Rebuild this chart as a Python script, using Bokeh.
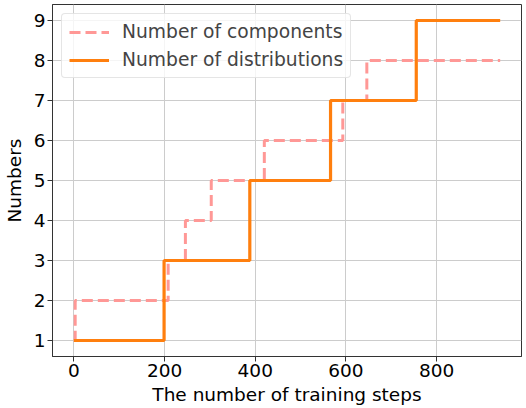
from bokeh.plotting import figure
from bokeh.models import Range1d, FixedTicker, Legend, LegendItem
from bokeh.embed import file_html
from bokeh.resources import INLINE

# Data: step functions (value holds from x until next x)
comp_x = [0, 3, 208, 246, 303, 420, 593, 646, 940]
comp_y = [1, 2, 3, 4, 5, 6, 7, 8, 8]
dist_x = [0, 199, 388, 566, 755, 940]
dist_y = [1, 3, 5, 7, 9, 9]
x_ticks = [0, 200, 400, 600, 800]
y_ticks = [1, 2, 3, 4, 5, 6, 7, 8, 9]
x_label = "The number of training steps"
y_label = "Numbers"

FONT = "DejaVu Sans"

p = figure(frame_width=469, frame_height=352, output_backend="svg", toolbar_location=None,
           x_range=Range1d(-47, 987), y_range=Range1d(0.6, 9.4),
           min_border_left=44, min_border_right=5, min_border_top=4, min_border_bottom=0)

r1 = p.step(comp_x, comp_y, mode="after", line_color="#ff9896", line_width=3,
            line_dash="11 5")
r2 = p.step(dist_x, dist_y, mode="after", line_color="#ff7f0e", line_width=3.2)

for ax in (p.xaxis[0], p.yaxis[0]):
    ax.major_label_text_font = FONT
    ax.major_label_text_font_size = "18.5px"
    ax.major_label_text_color = "black"
    ax.axis_label_text_font = FONT
    ax.axis_label_text_font_size = "18.5px"
    ax.axis_label_text_font_style = "normal"
    ax.axis_label_text_color = "black"
    ax.minor_tick_line_color = None
    ax.major_tick_out = 5
    ax.major_tick_in = 0
    ax.major_tick_line_color = "#333333"
    ax.axis_line_color = "#333333"
    ax.major_label_standoff = 2

p.xaxis[0].ticker = FixedTicker(ticks=x_ticks)
p.yaxis[0].ticker = FixedTicker(ticks=y_ticks)
p.xaxis[0].axis_label = x_label
p.yaxis[0].axis_label = y_label
p.xaxis[0].axis_label_standoff = 4
p.yaxis[0].axis_label_standoff = 6

p.xgrid.grid_line_color = "#cccccc"
p.ygrid.grid_line_color = "#cccccc"
p.xgrid.grid_line_width = 1
p.ygrid.grid_line_width = 1

p.outline_line_color = "#333333"
p.outline_line_width = 1
p.background_fill_color = "white"
p.border_fill_color = "white"

legend = Legend(items=[LegendItem(label="Number of components", renderers=[r1]),
                       LegendItem(label="Number of distributions", renderers=[r2])],
                location="top_left")
legend.label_text_font = FONT
legend.label_text_font_size = "18.7px"
legend.glyph_width = 40
legend.glyph_height = 20
legend.label_height = 20
legend.label_standoff = 13
legend.spacing = 7
legend.padding = 7
legend.margin = 9
legend.border_line_color = "#cccccc"
legend.border_line_width = 1
legend.border_radius = 4
legend.background_fill_alpha = 0.8
p.add_layout(legend)

open("out.html", "w").write(file_html(p, INLINE))
